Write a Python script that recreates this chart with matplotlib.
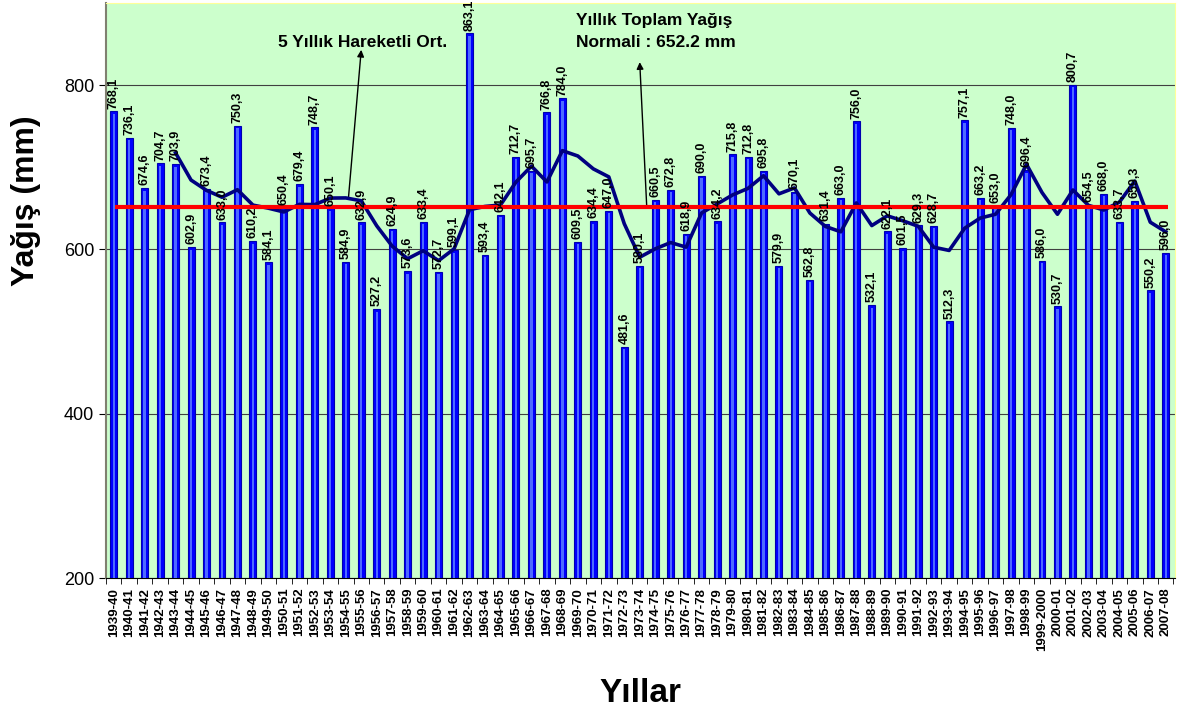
"""
Yıllık toplam yağış (1939-40 .. 2007-08) çubuk grafiği,
5 yıllık hareketli ortalama ve normal çizgisi ile.
"""

import numpy as np
import pandas as pd
import matplotlib
matplotlib.use("Agg")
import matplotlib.pyplot as plt

plt.rcParams["font.family"] = ["Liberation Sans", "DejaVu Sans"]

# --- veri -----------------------------------------------------------------
years = [f"{y}-{str(y + 1)[-2:]}" for y in range(1939, 2008)]
years[years.index("1999-00")] = "1999-2000"

rain = [
    768.1, 736.1, 674.6, 704.7, 703.9, 602.9, 673.4, 633.0, 750.3, 610.2,
    584.1, 650.4, 679.4, 748.7, 650.1, 584.9, 632.9, 527.2, 624.9, 573.6,
    633.4, 572.7, 599.1, 863.1, 593.4, 642.1, 712.7, 695.7, 766.8, 784.0,
    609.5, 634.4, 647.0, 481.6, 580.1, 660.5, 672.8, 618.9, 690.0, 634.2,
    715.8, 712.8, 695.8, 579.9, 670.1, 562.8, 631.4, 663.0, 756.0, 532.1,
    622.1, 601.5, 629.3, 628.7, 512.3, 757.1, 663.2, 653.0, 748.0, 696.4,
    586.0, 530.7, 800.7, 654.5, 668.0, 633.7, 659.3, 550.2, 596.0,
]
normal = 652.2

# 5 yıllık hareketli ortalama (son 5 yıl)
moving_avg = pd.Series(rain).rolling(5).mean()

# --- çizim ----------------------------------------------------------------
fig = plt.figure(figsize=(11.8, 7.13), dpi=100)
ax = fig.add_axes([0.0898, 0.1893, 0.9060, 0.8065])
ax.set_facecolor("#CCFFCC")

x = np.arange(len(rain))
ax.bar(x, rain, width=0.45, color="#0000FF", edgecolor="#0000B0",
       linewidth=0.8, zorder=2)
# açık renkli orta şerit (Excel degrade görünümü)
ax.bar(x, np.array(rain) - 203, bottom=200, width=0.15, color="#4D6BFF",
       linewidth=0, zorder=3)

ax.plot(x, moving_avg, color="#000080", linewidth=2.6, zorder=4)
ax.hlines(normal, 0.1, 68.15, color="#FF0000", linewidth=3, zorder=5)

for xi, v in zip(x, rain):
    ax.annotate(f"{v:.1f}".replace(".", ","), (xi, v), xytext=(0, 2),
                textcoords="offset points", rotation=90, ha="center",
                va="bottom", fontsize=9, fontweight="bold", zorder=6)

ax.set_ylim(200, 900)
ax.set_xlim(-0.3, 68.6)
ax.set_yticks([200, 400, 600, 800])
ax.yaxis.grid(True, color="#404040", linewidth=0.8, zorder=1)
ax.set_axisbelow(True)
ax.tick_params(axis="y", labelsize=13, length=5, direction="out")

ax.set_xticks(x)
ax.set_xticklabels(years, rotation=90, fontsize=9.5, fontweight="bold")
ax.set_xticks(np.arange(len(rain) + 1) - 0.5, minor=True)
ax.tick_params(axis="x", which="major", length=0, pad=7)
ax.tick_params(axis="x", which="minor", length=4)

ax.spines["left"].set_color("#808070")
ax.spines["left"].set_linewidth(1.5)
ax.spines["top"].set_color("#FFFF99")
ax.spines["right"].set_color("#FFFF99")
ax.spines["bottom"].set_color("black")

fig.text(26 / 1180, 1 - 201 / 713, "Yağış (mm)", fontsize=23,
         fontweight="bold", rotation=90, ha="center", va="center")
fig.text(0.5424, 0.028, "Yıllar", fontsize=24, fontweight="bold",
         ha="center", va="center")

# açıklamalar
ax.text(16.07, 852, "5 Yıllık Hareketli Ort.", ha="center", va="center",
        fontsize=12.5, fontweight="bold")
ax.annotate("", xy=(16.0, 843), xytext=(15.17, 662),
            arrowprops=dict(arrowstyle="-|>", color="black", lw=1,
                            shrinkA=0, shrinkB=0))

ax.text(29.9, 865, "Yıllık Toplam Yağış\nNormali : 652.2 mm", ha="left",
        va="center", fontsize=12.5, fontweight="bold", linespacing=1.55)
ax.annotate("", xy=(34.0, 828), xytext=(34.45, 653),
            arrowprops=dict(arrowstyle="-|>", color="black", lw=1,
                            shrinkA=0, shrinkB=0))

fig.savefig("out.png", dpi=100)
